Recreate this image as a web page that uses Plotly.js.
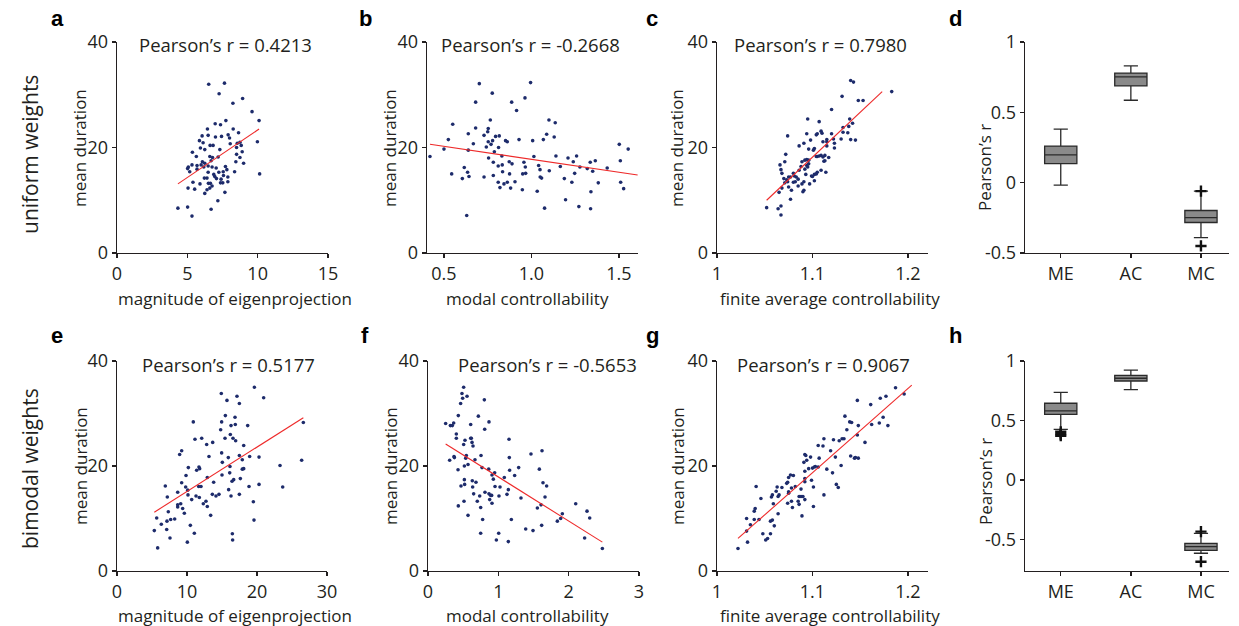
<!DOCTYPE html>
<html>
<head>
<meta charset="utf-8">
<script src="https://cdn.plot.ly/plotly-3.0.1.min.js"></script>
<style>html,body{margin:0;padding:0;background:#fff;}#chart{width:1239px;height:626px;}</style>
</head>
<body>
<div id="chart"></div>
<script>
// ---------- data ----------
// a: uniform weights, magnitude of eigenprojection vs mean duration
const aX = [6.52,7.64,7.26,8.24,8.93,9.60,10.10,9.98,10.14,4.33,5.02,5.33,6.69,7.17,7.67,6.98,7.74,6.43,7.36,8.26,8.64,7.90,6.05,6.48,7.00,7.43,8.00,5.86,6.12,6.62,6.83,7.31,8.05,8.55,8.74,8.83,8.50,5.93,6.24,5.36,5.64,6.60,6.79,7.19,8.90,8.50,6.69,6.07,6.24,8.74,8.45,9.00,5.33,5.07,5.69,5.98,6.48,5.02,5.17,6.17,6.76,7.05,7.71,7.81,5.69,6.48,7.24,7.55,6.88,6.40,6.21,6.95,7.07,7.57,7.88,8.36,6.50,6.64,7.36,7.88,7.52,7.40,6.76,6.60,6.40,6.24,5.40,5.05,5.52,5.90];
const aY = [32.0,32.2,30.2,28.4,29.3,26.8,25.1,21.1,15.0,8.5,8.7,7.0,8.3,9.9,11.5,24.5,25.1,23.5,24.3,23.5,22.8,22.4,22.2,22.3,22.0,22.1,21.8,21.3,20.9,20.4,20.4,19.6,20.7,20.8,21.0,20.4,20.0,19.9,19.6,19.1,18.3,18.3,18.1,18.2,19.2,18.7,17.5,17.3,17.0,18.1,17.3,17.0,16.7,16.3,16.6,16.7,16.5,16.0,15.4,16.3,16.3,16.1,16.4,15.8,15.9,15.3,15.3,15.4,14.9,14.2,14.2,14.5,14.1,14.7,14.4,15.4,13.2,13.2,13.3,13.5,13.3,14.0,12.7,12.3,12.0,11.3,13.4,12.3,12.1,13.1];
const fitAX = [4.33, 10.10];
const fitAY = [13.1, 23.5];

// b: uniform weights, modal controllability
const bX = [0.42,0.50,0.525,0.55,0.544,0.616,0.605,0.635,0.643,0.630,0.639,0.639,0.668,0.681,0.681,0.702,0.729,0.729,0.742,0.750,0.753,0.753,0.755,0.769,0.765,0.776,0.778,0.782,0.782,0.788,0.795,0.810,0.812,0.816,0.810,0.820,0.831,0.833,0.835,0.843,0.852,0.862,0.862,0.873,0.875,0.881,0.887,0.889,0.906,0.915,0.929,0.948,0.950,0.957,0.963,0.965,0.967,0.995,1.007,1.014,1.033,1.041,1.049,1.050,1.058,1.068,1.075,1.087,1.100,1.102,1.130,1.136,1.140,1.165,1.188,1.195,1.209,1.231,1.239,1.247,1.258,1.277,1.271,1.319,1.336,1.340,1.338,1.350,1.365,1.382,1.433,1.502,1.508,1.510,1.527,1.553];
const bY = [18.3,19.7,21.5,24.4,15.0,16.2,14.1,15.3,14.5,7.1,22.6,19.5,20.7,23.7,28.6,32.1,22.3,14.4,20.1,23.0,23.6,21.1,18.0,20.6,25.2,30.3,21.3,17.2,14.7,19.2,22.1,16.5,20.0,22.2,13.4,12.4,18.4,16.7,15.4,13.1,21.3,21.1,13.4,17.3,15.0,12.3,28.6,16.9,13.5,27.0,21.5,12.0,15.0,17.2,29.4,16.3,15.1,32.3,21.3,18.3,11.7,16.6,15.8,14.4,14.2,21.5,8.5,22.5,25.2,15.6,22.0,24.7,18.4,16.4,14.1,10.1,18.0,13.4,17.3,15.1,18.4,16.3,8.8,16.0,17.2,11.6,8.4,15.5,17.5,13.3,16.1,20.6,17.5,13.4,12.2,19.7];
const fitBX = [0.42, 1.607];
const fitBY = [20.6, 14.8];

// c: uniform weights, finite average controllability
const cX = [1.052,1.064,1.067,1.067,1.077,1.065,1.068,1.071,1.074,1.075,1.078,1.075,1.077,1.080,1.081,1.082,1.083,1.085,1.086,1.088,1.089,1.091,1.090,1.091,1.092,1.093,1.094,1.095,1.096,1.096,1.097,1.099,1.100,1.102,1.102,1.104,1.105,1.096,1.098,1.102,1.104,1.105,1.107,1.109,1.111,1.112,1.113,1.114,1.117,1.086,1.091,1.094,1.095,1.105,1.107,1.109,1.110,1.111,1.115,1.115,1.115,1.120,1.120,1.122,1.123,1.123,1.130,1.131,1.132,1.132,1.137,1.138,1.139,1.140,1.142,1.145,1.140,1.143,1.148,1.153,1.183,1.066,1.067,1.068,1.071,1.072,1.074,1.070,1.073,1.080,1.085,1.089,1.092,1.094,1.101,1.104,1.109,1.113];
const cY = [8.6,8.4,8.9,7.2,10.2,11.5,12.3,13.3,13.5,12.5,11.9,14.4,14.4,15.1,14.6,13.5,14.4,14.0,15.7,16.4,13.1,11.9,11.6,13.5,15.9,14.9,16.6,16.3,16.9,17.6,13.1,14.6,14.5,13.7,14.9,15.0,15.3,19.7,21.4,19.8,18.3,18.3,18.4,15.7,18.2,17.4,17.5,15.3,18.1,20.3,20.8,22.6,25.4,22.6,24.9,23.1,22.7,21.1,21.1,21.5,20.3,27.2,22.6,21.6,19.9,20.8,21.6,29.7,23.8,22.9,22.8,24.0,25.4,21.5,24.6,21.4,32.7,32.4,28.9,28.9,30.6,16.7,15.8,15.1,17.3,18.7,22.2,14.1,13.9,13.4,12.7,17.3,17.6,17.7,19.5,22.4,18.5,18.5];
const fitCX = [1.052, 1.173];
const fitCY = [10.0, 30.6];

// e: bimodal weights, magnitude of eigenprojection
const eX = [5.33,5.67,5.81,6.33,7.10,7.14,7.33,7.57,7.67,8.24,6.90,7.19,8.67,8.67,8.67,8.95,9.10,9.24,9.24,9.38,9.62,9.81,9.86,10.05,10.10,10.14,10.19,10.48,10.67,10.90,11.05,11.14,11.29,11.38,11.67,11.71,11.76,11.81,12.00,12.10,12.33,12.71,12.81,12.90,12.90,13.14,13.38,13.62,13.67,13.81,14.14,14.57,14.81,14.90,14.95,14.95,15.00,15.05,15.43,15.48,15.71,15.90,15.95,16.10,16.14,16.19,16.29,16.29,16.43,16.48,16.52,16.57,16.67,16.86,16.90,16.95,17.14,17.48,17.48,17.48,17.62,17.90,17.90,18.10,18.10,18.67,18.86,18.95,19.48,19.57,19.62,20.29,20.29,20.95,23.29,23.67,26.38,26.62];
const eY = [7.7,10.1,4.4,8.9,7.9,9.5,11.3,6.3,9.8,9.9,16.2,14.1,15.0,12.2,12.6,22.2,12.8,16.8,22.9,11.9,11.0,16.0,18.2,5.5,15.4,14.5,19.7,8.7,13.6,28.4,7.2,25.1,14.3,19.2,16.1,19.8,14.0,19.5,16.1,25.3,12.8,13.3,24.1,12.3,17.8,21.8,10.6,14.6,24.5,16.9,14.3,14.6,26.9,33.8,28.4,22.5,18.3,20.7,25.3,29.6,32.5,21.6,15.5,18.7,19.9,26.0,27.7,14.3,17.1,7.1,5.9,25.3,17.4,29.3,27.9,24.8,33.3,31.9,14.6,22.0,17.6,21.2,19.4,23.9,19.5,27.7,16.1,21.8,13.2,9.7,35.0,21.7,16.5,33.0,20.1,16.0,21.1,28.3];
const fitEX = [5.33, 26.62];
const fitEY = [11.2, 29.2];

// f: bimodal weights, modal controllability
const fX = [0.251,0.308,0.318,0.346,0.365,0.370,0.375,0.403,0.403,0.427,0.431,0.431,0.464,0.469,0.483,0.493,0.507,0.507,0.512,0.517,0.517,0.521,0.526,0.536,0.545,0.555,0.569,0.569,0.607,0.607,0.616,0.626,0.630,0.635,0.640,0.649,0.668,0.682,0.701,0.716,0.735,0.749,0.749,0.754,0.768,0.777,0.801,0.806,0.810,0.863,0.867,0.867,0.877,0.891,0.905,0.910,0.910,0.929,0.948,0.953,0.972,1.005,1.009,1.024,1.085,1.123,1.142,1.142,1.152,1.156,1.161,1.185,1.232,1.289,1.322,1.389,1.464,1.493,1.555,1.583,1.607,1.616,1.621,1.635,1.664,1.687,1.839,1.886,1.910,2.100,2.227,2.261,2.299,2.479];
const fY = [28.1,21.1,27.7,27.7,28.2,21.8,21.6,26.1,25.3,19.3,29.6,12.4,31.9,16.2,33.8,32.9,35.0,24.1,13.3,20.0,17.4,16.5,24.9,21.5,22.0,33.3,20.3,10.6,27.9,25.3,25.3,24.5,17.2,16.0,23.8,14.7,21.2,16.9,13.3,29.5,14.3,7.2,12.1,22.0,19.7,9.8,32.6,27.0,15.0,19.4,28.4,14.7,13.6,14.4,14.4,12.9,18.3,17.5,18.7,16.1,5.9,7.2,14.3,16.0,17.8,14.6,5.6,15.5,25.1,21.6,19.2,9.8,18.2,19.7,13.9,8.0,22.3,7.7,12.0,19.4,12.6,8.7,22.9,16.8,14.1,16.2,9.5,10.0,10.9,12.8,6.3,11.4,10.1,4.3];
const fitFX = [0.251, 2.479];
const fitFY = [24.2, 5.5];

// g: bimodal weights, finite average controllability
const gX = [1.022,1.032,1.031,1.031,1.035,1.039,1.039,1.040,1.041,1.044,1.046,1.048,1.051,1.053,1.056,1.056,1.058,1.059,1.060,1.057,1.058,1.064,1.062,1.064,1.065,1.063,1.068,1.073,1.074,1.075,1.077,1.080,1.082,1.074,1.075,1.075,1.078,1.078,1.079,1.085,1.086,1.086,1.088,1.088,1.089,1.090,1.092,1.092,1.092,1.092,1.091,1.092,1.093,1.094,1.096,1.098,1.099,1.100,1.101,1.101,1.102,1.103,1.106,1.106,1.107,1.111,1.112,1.112,1.115,1.119,1.121,1.122,1.124,1.125,1.127,1.128,1.130,1.131,1.133,1.134,1.136,1.139,1.141,1.140,1.144,1.145,1.147,1.147,1.148,1.148,1.155,1.161,1.162,1.170,1.171,1.174,1.177,1.179,1.187,1.196];
const gY = [4.3,5.5,7.6,10.0,8.8,9.8,11.4,11.9,16.1,9.8,13.8,7.1,5.9,6.2,7.1,9.5,9.7,12.8,8.6,14.1,14.5,10.9,15.2,14.2,14.5,16.0,15.9,16.7,16.9,17.8,18.3,18.2,16.1,12.9,14.8,15.1,15.8,13.3,12.1,13.3,14.2,12.7,15.6,14.2,10.5,14.2,13.6,17.0,17.6,19.0,20.7,22.2,22.0,21.1,19.5,21.7,17.3,19.6,16.0,12.3,19.8,19.9,19.8,23.9,21.5,23.8,14.5,25.2,19.4,22.9,18.7,25.0,21.7,16.5,15.9,24.8,20.1,25.2,25.2,29.5,26.9,28.4,28.3,21.9,21.5,21.6,32.5,25.9,27.7,21.5,24.5,31.7,27.9,28.2,32.9,29.3,33.3,27.7,34.9,33.7];
const fitGX = [1.022, 1.204];
const fitGY = [6.2, 35.4];

// d / h: box plots of Pearson's r
const boxCats = ['ME', 'AC', 'MC'];
const dQ1 = [0.136, 0.688, -0.283];
const dMed = [0.198, 0.752, -0.248];
const dQ3 = [0.260, 0.779, -0.198];
const dLo = [-0.017, 0.586, -0.390];
const dHi = [0.380, 0.830, -0.060];
const dOutX = ['MC', 'MC'];
const dOutY = [-0.060, -0.450];

const hQ1 = [0.552, 0.832, -0.591];
const hMed = [0.580, 0.855, -0.560];
const hQ3 = [0.645, 0.880, -0.532];
const hLo = [0.426, 0.759, -0.616];
const hHi = [0.737, 0.924, -0.448];
const hOutX = ['ME', 'ME', 'ME', 'MC', 'MC'];
const hOutY = [0.405, 0.385, 0.372, -0.434, -0.687];

const pearson = ['0.4213', '-0.2668', '0.7980', '0.5177', '-0.5653', '0.9067'];

// ---------- drawing ----------
const W = 1239, H = 626;
const px = v => v / W;
const py = v => 1 - v / H;
const FONT = 'Open Sans, Noto Sans, sans-serif';
const TXT = '#231f20';
const DOT = '#1d2b6b';
const RED = '#ee2a2a';

function scatter(xs, ys, n) {
  return {type: 'scatter', mode: 'markers', x: xs, y: ys, xaxis: 'x' + n, yaxis: 'y' + n,
    marker: {size: 3.6, color: DOT}, hoverinfo: 'skip', showlegend: false};
}
function fit(xs, ys, n) {
  return {type: 'scatter', mode: 'lines', x: xs, y: ys, xaxis: 'x' + n, yaxis: 'y' + n,
    line: {color: RED, width: 1.1}, hoverinfo: 'skip', showlegend: false};
}
function box(q1, med, q3, lo, hi, n) {
  return {type: 'box', x: boxCats, q1: q1, median: med, q3: q3, lowerfence: lo, upperfence: hi,
    xaxis: 'x' + n, yaxis: 'y' + n, boxpoints: false, width: 0.46, whiskerwidth: 0.44,
    fillcolor: '#8a8a8a', line: {color: '#2a2a2a', width: 1.3}, hoverinfo: 'skip', showlegend: false};
}
function outliers(xs, ys, n) {
  return {type: 'scatter', mode: 'markers', x: xs, y: ys, xaxis: 'x' + n, yaxis: 'y' + n,
    marker: {symbol: 'cross-thin', size: 8, line: {color: '#111', width: 2.4}}, hoverinfo: 'skip', showlegend: false};
}

const data = [
  scatter(aX, aY, ''), fit(fitAX, fitAY, ''),
  scatter(bX, bY, 2), fit(fitBX, fitBY, 2),
  scatter(cX, cY, 3), fit(fitCX, fitCY, 3),
  box(dQ1, dMed, dQ3, dLo, dHi, 4), outliers(dOutX, dOutY, 4),
  scatter(eX, eY, 5), fit(fitEX, fitEY, 5),
  scatter(fX, fY, 6), fit(fitFX, fitFY, 6),
  scatter(gX, gY, 7), fit(fitGX, fitGY, 7),
  box(hQ1, hMed, hQ3, hLo, hHi, 8), outliers(hOutX, hOutY, 8)
];
data[0].xaxis = 'x'; data[0].yaxis = 'y'; data[1].xaxis = 'x'; data[1].yaxis = 'y';

const axBase = {showline: true, linecolor: '#231f20', linewidth: 1.4, ticks: 'outside', ticklen: 4,
  tickwidth: 1.4, tickcolor: '#231f20', showgrid: false, zeroline: false,
  tickfont: {family: FONT, size: 18, color: TXT}, fixedrange: true};
function ax(extra) { return Object.assign({}, axBase, extra); }

const row1 = [py(253), py(42)];
const row2 = [py(571), py(361)];

const layout = {
  width: W, height: H, margin: {l: 0, r: 0, t: 0, b: 0},
  paper_bgcolor: '#fff', plot_bgcolor: '#fff', showlegend: false,
  font: {family: FONT, color: TXT},
  xaxis:  ax({domain: [px(117), px(328)], anchor: 'y',  range: [0, 15], tickvals: [0, 5, 10, 15]}),
  yaxis:  ax({domain: row1, anchor: 'x',  range: [0, 40], tickvals: [0, 20, 40]}),
  xaxis2: ax({domain: [px(427), px(638)], anchor: 'y2', range: [0.403, 1.609], tickvals: [0.5, 1.0, 1.5], ticktext: ['0.5', '1.0', '1.5']}),
  yaxis2: ax({domain: row1, anchor: 'x2', range: [0, 40], tickvals: [0, 20, 40]}),
  xaxis3: ax({domain: [px(717), px(928)], anchor: 'y3', range: [1, 1.221], tickvals: [1, 1.1, 1.2], ticktext: ['1', '1.1', '1.2']}),
  yaxis3: ax({domain: row1, anchor: 'x3', range: [0, 40], tickvals: [0, 20, 40]}),
  xaxis4: ax({domain: [px(1025), px(1229)], anchor: 'y4', type: 'category', range: [-0.51, 2.4]}),
  yaxis4: ax({domain: row1, anchor: 'x4', range: [-0.5, 1], tickvals: [-0.5, 0, 0.5, 1], ticktext: ['-0.5', '0', '0.5', '1']}),
  xaxis5: ax({domain: [px(117), px(327)], anchor: 'y5', range: [0, 30], tickvals: [0, 10, 20, 30]}),
  yaxis5: ax({domain: row2, anchor: 'x5', range: [0, 40], tickvals: [0, 20, 40]}),
  xaxis6: ax({domain: [px(428), px(639)], anchor: 'y6', range: [0, 3], tickvals: [0, 1, 2, 3]}),
  yaxis6: ax({domain: row2, anchor: 'x6', range: [0, 40], tickvals: [0, 20, 40]}),
  xaxis7: ax({domain: [px(717), px(928)], anchor: 'y7', range: [1, 1.221], tickvals: [1, 1.1, 1.2], ticktext: ['1', '1.1', '1.2']}),
  yaxis7: ax({domain: row2, anchor: 'x7', range: [0, 40], tickvals: [0, 20, 40]}),
  xaxis8: ax({domain: [px(1025), px(1229)], anchor: 'y8', type: 'category', range: [-0.51, 2.4]}),
  yaxis8: ax({domain: row2, anchor: 'x8', range: [-0.765, 1], tickvals: [-0.5, 0, 0.5, 1], ticktext: ['-0.5', '0', '0.5', '1']}),
  annotations: []
};

function ann(text, x, y, opts) {
  layout.annotations.push(Object.assign({text: text, xref: 'paper', yref: 'paper', x: px(x), y: py(y),
    showarrow: false, xanchor: 'center', yanchor: 'middle', font: {family: FONT, size: 17, color: TXT}}, opts || {}));
}

// panel letters
const letters = [['a', 57, 18], ['b', 365, 18], ['c', 652, 18], ['d', 955, 18],
                 ['e', 57, 335], ['f', 365, 335], ['g', 652, 335], ['h', 955, 335]];
letters.forEach(l => ann('<b>' + l[0] + '</b>', l[1], l[2], {font: {family: 'Liberation Sans, Arial, sans-serif', size: 22, color: '#000'}}));

// row labels
ann('uniform weights', 30, 155, {textangle: -90, font: {family: FONT, size: 21, color: TXT}});
ann('bimodal weights', 30, 469, {textangle: -90, font: {family: FONT, size: 21, color: TXT}});

// Pearson r titles
const titlePos = [[226, 45], [530, 45], [820, 45], [228, 364], [547, 364], [824, 364]];
titlePos.forEach((p, i) => ann('Pearson\u2019s r = ' + pearson[i], p[0], p[1], {font: {family: FONT, size: 18.5, color: TXT}}));

// y titles
[[80, 148], [390, 148], [677, 148], [80, 466], [390, 466], [677, 466]].forEach(p =>
  ann('mean duration', p[0], p[1], {textangle: -90}));
ann('Pearson\u2019s r', 985, 168, {textangle: -90});
ann('Pearson\u2019s r', 985, 482, {textangle: -90});

// x titles
ann('magnitude of eigenprojection', 235, 298);
ann('modal controllability', 527, 298);
ann('finite average controllability', 830, 298);
ann('magnitude of eigenprojection', 235, 615);
ann('modal controllability', 527, 615);
ann('finite average controllability', 830, 615);

Plotly.newPlot('chart', data, layout, {staticPlot: true, displayModeBar: false});
</script>
</body>
</html>
